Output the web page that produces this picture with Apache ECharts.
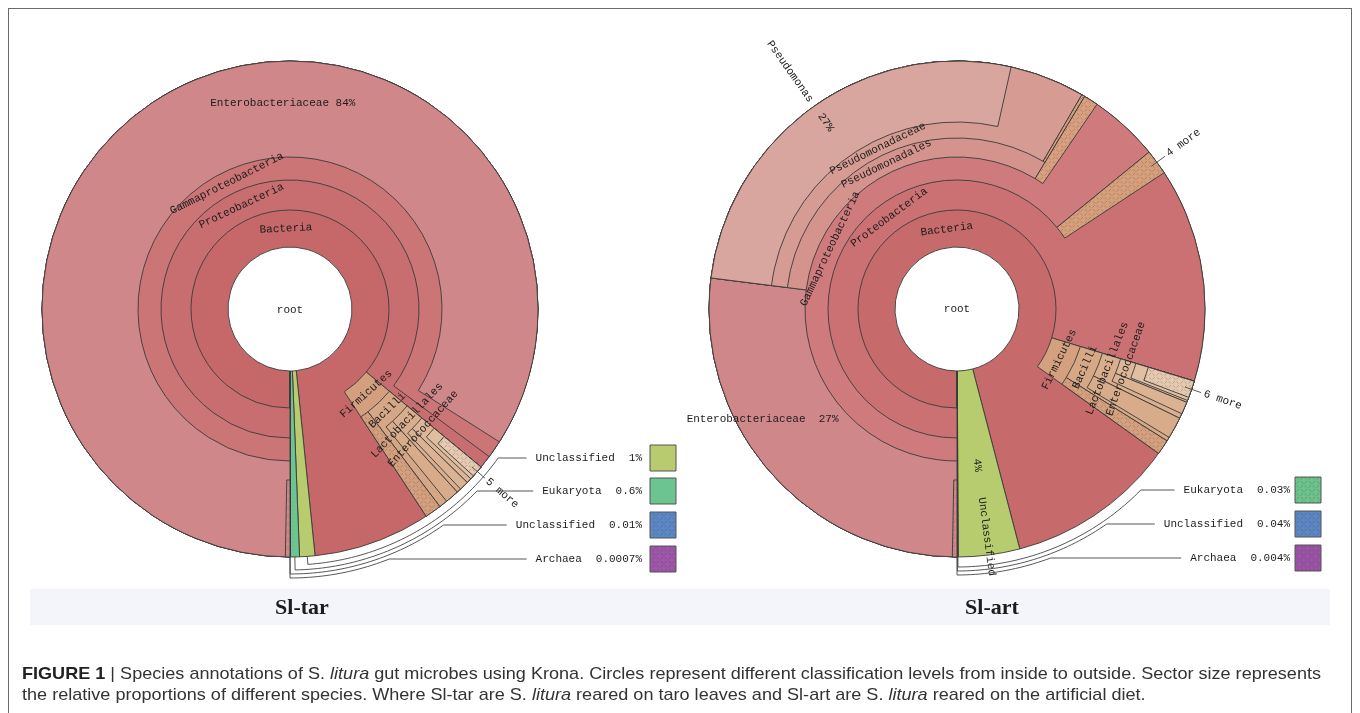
<!DOCTYPE html>
<html>
<head>
<meta charset="utf-8">
<script src="https://cdn.jsdelivr.net/npm/echarts@6/dist/echarts.min.js"></script>
<style>
html,body{margin:0;padding:0;background:#fff;width:1360px;height:713px;overflow:hidden;}
#chart{position:absolute;left:0;top:0;width:1360px;height:713px;}
#frame{position:absolute;left:8px;top:8px;width:1344px;height:720px;border:1px solid #6a6a6a;box-sizing:border-box;pointer-events:none;}
.cap{position:absolute;left:22px;font-family:"Liberation Sans",Arial,sans-serif;font-size:17px;color:#333;white-space:nowrap;transform-origin:0 0;line-height:20px;}
.cap b{color:#222;}
</style>
</head>
<body>
<div id="chart"></div>
<div id="frame"></div>
<div id="cap1" class="cap" style="top:664px;"><b>FIGURE 1</b> | Species annotations of S. <i>litura</i> gut microbes using Krona. Circles represent different classification levels from inside to outside. Sector size represents</div>
<div id="cap2" class="cap" style="top:685px;">the relative proportions of different species. Where Sl-tar are S. <i>litura</i> reared on taro leaves and Sl-art are S. <i>litura</i> reared on the artificial diet.</div>
<script>
// ===================== DATA =====================
// Sl-tar (taro leaves) — values are % of all reads
const tarIds     = ['root','B','U1','E','U2','A','P','F','G','EN','ENm','BC','FM','LA','BCo','EC','LAo','GE','M5'];
const tarNames   = ['root','Bacteria','Unclassified','Eukaryota','Unclassified','Archaea','Proteobacteria','Firmicutes','Gammaproteobacteria','Enterobacteriaceae','','Bacilli','','Lactobacillales','','Enterococcaceae','','','5 more'];
const tarParents = [null,'root','root','root','root','root','B','B','P','G','EN','F','F','BC','BC','LA','LA','EC','GE'];
const tarValues  = [100,98.389,1,0.6,0.01,0.0007,86.0,4.75,85.15,84,0.3,3.67,1.08,2.22,0.9,1.33,0.6,1.0,0.75];
const tarKeys    = ['U1','E','U2','A'];
const tarMore    = ['M5'];

// Sl-art (artificial diet)
const artIds     = ['root','B','U1','E','U2','A','P','F','G','PM','EN','ENm','PS','GM','PSC','PSm','PSE','BC','FM','LA','BCo','EC','LAo','GE','M6'];
const artNames   = ['root','Bacteria','Unclassified','Eukaryota','Unclassified','Archaea','Proteobacteria','Firmicutes','Gammaproteobacteria','4 more','Enterobacteriaceae','','Pseudomonadales','','Pseudomonadaceae','','Pseudomonas','Bacilli','','Lactobacillales','','Enterococcaceae','','','6 more'];
const artParents = [null,'root','root','root','root','root','B','B','P','P','G','EN','G','G','PS','PS','PSC','F','F','BC','BC','LA','LA','EC','GE'];
const artValues  = [100,95.926,4.0,0.03,0.04,0.004,79.7,5.2,64.1,1.64,27.0,0.3,31.6,0.95,31.4,0.2,26.5,4.22,0.97,2.56,1.4,1.44,0.8,1.31,1.1];
const artKeys    = ['E','U2','A'];
const artMore    = ['PM','M6'];

const chartTitles = ['Sl-tar','Sl-art'];

// ===================== STYLE / LAYOUT =====================
const FONT = '"Liberation Mono","DejaVu Sans Mono",monospace';
const LINE = '#3a3a3a';
const CY = 309, R = 248;
const EDGES = [0, 62, 99, 129, 152, 171, 187, 200, 212];
const MAXD = 8;

function hatch(base){
  const c = document.createElement('canvas'); c.width = 8; c.height = 8;
  const g = c.getContext('2d'); g.fillStyle = base; g.fillRect(0,0,8,8);
  g.strokeStyle = 'rgba(70,50,40,0.28)'; g.lineWidth = 0.9;
  g.beginPath(); g.moveTo(0.5,3.5); g.lineTo(3,1); g.moveTo(4.5,7.5); g.lineTo(7,5); g.moveTo(5,1.5); g.lineTo(7.5,3.5); g.moveTo(0.5,5.5); g.lineTo(2.5,7.5); g.stroke();
  return {image: c, repeat: 'repeat'};
}

const tarFill = {root:'#ffffff',B:'#C66869',U1:'#B8CB6E',E:'#6CC490',U2:hatch('#5B87C6'),A:hatch('#9D56A8'),
  P:'#C96E70',F:'#D39F7F',G:'#CC7577',EN:'#D08789',ENm:hatch('#D08789'),BC:'#D6A786',FM:hatch('#D39F7F'),
  LA:'#D9AE8E',BCo:'#D8AB8A',EC:'#DCB697',LAo:'#DBB393',GE:'#DFBE9F',M5:hatch('#E4CAB2')};
const artFill = {root:'#ffffff',B:'#C76A6B',U1:'#B7CB6F',E:hatch('#6CC18D'),U2:hatch('#5C86C3'),A:hatch('#9A54A6'),
  P:'#CB7173',F:'#D4A07F',G:'#CF7B7E',PM:hatch('#D69F7C'),EN:'#D0878A',ENm:hatch('#D0878A'),PS:'#D4948D',GM:hatch('#D8A080'),
  PSC:'#D69B93',PSm:hatch('#D8A080'),PSE:'#D9A69F',BC:'#D7A886',FM:hatch('#D4A07F'),LA:'#DAAF8E',BCo:'#D8AB8A',
  EC:'#DDB797',LAo:'#DBB393',GE:'#E0BFA2',M6:hatch('#E4C9B0')};

// label placements (mode: center | out | in ; ra = anchor radius)
const T = 'tangential';
const tarLab1 = {B:{mode:'center',rotate:T},P:{mode:'center',rotate:T},G:{mode:'center',rotate:T},
  F:{mode:'center',rotate:T},BC:{mode:'center',rotate:T},LA:{mode:'center',rotate:T},EC:{mode:'center',rotate:T},
  M5:{mode:'out',ra:261,rotate:'radial'}};
const tarLab2 = {};
const artLab1 = {B:{mode:'center',rotate:T},P:{mode:'center',rotate:T},G:{mode:'center',rotate:T},
  PS:{mode:'center',rotate:T},PSC:{mode:'center',rotate:T},F:{mode:'center',rotate:T},BC:{mode:'center',rotate:T},
  LA:{mode:'center',rotate:T},EC:{mode:'center',rotate:T},
  PSE:{mode:'out',ra:254,rotate:'radial'},EN:{mode:'out',ra:158,rotate:0,fmt:'namePct2',va:'top'},
  U1:{mode:'out',ra:190,rotate:'radial'},PM:{mode:'out',ra:261,rotate:'radial'},M6:{mode:'out',ra:261,rotate:'radial'}};
const artLab2 = {PSE:{mode:'in',ra:238,rotate:'radial',fmt:'pct'},U1:{mode:'out',ra:151,rotate:'radial',fmt:'pct'}};

const tarKeyRows = [458,491,525,559], tarKeyRadii = [256,261,265,269];
const artKeyRows = [490,524,558],     artKeyRadii = [258,262,266];

// ===================== BUILD =====================
function buildTree(ids, names, parents, values){
  const map = {}; let root = null;
  ids.forEach((id,i)=>{ map[id] = {id, name:names[i], value:values[i], children:[]}; });
  ids.forEach((id,i)=>{ if (parents[i] == null) root = map[id]; else map[parents[i]].children.push(map[id]); });
  (function lay(n, start, depth){
    n.depth = depth; n.start = start; n.span = n.value/100*360; n.mid = start + n.span/2;
    let s = start; n.children.forEach(c=>{ lay(c, s, depth+1); s += c.value/100*360; });
  })(root, 180, 1);
  return {root, map};
}
const norm = a => ((a % 360) + 360) % 360;
function polar(cx, th, r){ const t = th*Math.PI/180; return [cx + r*Math.sin(t), CY - r*Math.cos(t)]; }
function arcPts(cx, th1, th2, r){
  const pts = [], n = Math.max(2, Math.ceil(Math.abs(th2 - th1)));
  for (let i = 0; i <= n; i++) pts.push(polar(cx, th1 + (th2 - th1)*i/n, r));
  return pts;
}
function pctText(v){ return String(v) + '%'; }
function labelText(n, fmt){
  if (fmt === 'pct') return Math.round(n.value) + '%';
  if (fmt === 'namePct2') return n.name + '  ' + Math.round(n.value) + '%';
  return n.name;
}
function labelOpt(spec, n){
  if (!spec || (!n.name && !spec.fmt)) return {show:false};
  const base = {show:true, color:'#1c1c1c', fontFamily:FONT, fontSize:11, formatter: labelText(n, spec.fmt), position:'inside'};
  if (spec.va) base.verticalAlign = spec.va;
  if (spec.mode === 'center') return Object.assign(base, {rotate:spec.rotate, align:'center'});
  const r0 = EDGES[n.depth-1], r1 = EDGES[n.depth];
  if (spec.mode === 'out') return Object.assign(base, {rotate:spec.rotate, align:'left', distance: spec.ra - r0});
  return Object.assign(base, {rotate:spec.rotate, align:'right', distance: r1 - spec.ra});
}
function layerItem(n, d, fills){
  const it = {name: n.name || ' ', value: n.value};
  if (n.depth < d){
    it.itemStyle = {color:'rgba(0,0,0,0)', borderWidth:0};
    it.children = n.children.map(c=>layerItem(c, d, fills));
  } else {
    it.itemStyle = {color: fills[n.id], borderColor: LINE, borderWidth: n.depth === 1 ? 0 : 0.9};
  }
  return it;
}
function labelItem(n, specs){
  return {name: n.name || ' ', value: n.value,
    itemStyle:{color:'rgba(0,0,0,0)', borderWidth:0},
    label: labelOpt(specs[n.id], n),
    children: n.children.map(c=>labelItem(c, specs))};
}
function baseSeries(cx){
  return {type:'sunburst', center:[cx, CY], radius:[0, R], startAngle:-90, clockwise:true, sort:null,
    silent:true, nodeClick:false, animation:false, emphasis:{disabled:true}};
}
function buildSeries(tree, cx, fills, lab1, lab2){
  const out = [];
  for (let d = 1; d <= MAXD; d++){
    const levels = [{}];
    for (let k = 1; k <= MAXD; k++) levels.push({radius:[EDGES[k-1], (k === d && d > 1) ? R : EDGES[k]]});
    out.push(Object.assign(baseSeries(cx), {z: 2 + d, label:{show:false}, levels, data:[layerItem(tree.root, d, fills)]}));
  }
  [lab1, lab2].forEach((specs, i)=>{
    const levels = [{}];
    for (let k = 1; k <= MAXD; k++) levels.push({radius:[EDGES[k-1], EDGES[k]]});
    out.push(Object.assign(baseSeries(cx), {z: 20 + i, levels, data:[labelItem(tree.root, specs)]}));
  });
  return out;
}

const measureCtx = document.createElement('canvas').getContext('2d');
function textW(s){ measureCtx.font = '11px ' + FONT; return measureCtx.measureText(s).width; }
const LS = {stroke:'#444', lineWidth:0.9, fill:null};

function keyGraphics(tree, cx, keyIds, rows, radii, valueRight, boxLeft, fills){
  const els = [];
  keyIds.forEach((id,i)=>{
    const n = tree.map[id], rk = radii[i], row = rows[i];
    const thN = norm(n.mid);
    const thE = 180 - Math.acos((row - CY)/rk)*180/Math.PI;
    const vt = pctText(n.value);
    const nameRight = valueRight - textW(vt) - 14;
    const nameLeft = nameRight - textW(n.name);
    const pts = [polar(cx, thN, R)].concat(arcPts(cx, thN, thE, rk));
    pts.push([nameLeft - 9, row]);
    els.push({type:'polyline', shape:{points:pts}, style:LS, z:40});
    els.push({type:'text', x:nameRight, y:row, style:{text:n.name, font:'11px ' + FONT, fill:'#1c1c1c', align:'right', verticalAlign:'middle'}, z:40});
    els.push({type:'text', x:valueRight, y:row, style:{text:vt, font:'11px ' + FONT, fill:'#1c1c1c', align:'right', verticalAlign:'middle'}, z:40});
    els.push({type:'rect', shape:{x:boxLeft, y:row-13, width:26, height:26}, style:{fill:fills[id], stroke:'#555', lineWidth:1}, z:40});
  });
  return els;
}
function moreLeaders(tree, cx, ids){
  return ids.map(id => {
    const th = norm(tree.map[id].mid);
    return {type:'polyline', shape:{points:[polar(cx, th, 241), polar(cx, th, 258)]}, style:LS, z:40};
  });
}

const tarTree = buildTree(tarIds, tarNames, tarParents, tarValues);
const artTree = buildTree(artIds, artNames, artParents, artValues);
const CX_TAR = 290, CX_ART = 957;

const series = [].concat(
  buildSeries(tarTree, CX_TAR, tarFill, tarLab1, tarLab2),
  buildSeries(artTree, CX_ART, artFill, artLab1, artLab2)
);

const en = tarTree.map['EN'];
const enPos = polar(CX_TAR, -2, 206);
const txt = (x, y, s, font) => ({type:'text', x:x, y:y, style:{text:s, font:font || ('11px ' + FONT), fill:'#1c1c1c', align:'center', verticalAlign:'middle'}, z:40});
const graphics = [
  {type:'rect', shape:{x:30, y:589, width:1300, height:36}, style:{fill:'#F3F5FB'}, z:0},
  txt(302, 608, chartTitles[0], 'bold 22px "Liberation Serif",serif'),
  txt(992, 608, chartTitles[1], 'bold 22px "Liberation Serif",serif'),
  txt(CX_TAR, CY + 1, tarTree.root.name),
  txt(CX_ART, CY, artTree.root.name),
  txt(enPos[0], enPos[1], en.name + ' ' + Math.round(en.value) + '%')
].concat(
  keyGraphics(tarTree, CX_TAR, tarKeys, tarKeyRows, tarKeyRadii, 642, 650, tarFill),
  keyGraphics(artTree, CX_ART, artKeys, artKeyRows, artKeyRadii, 1290, 1295, artFill),
  moreLeaders(tarTree, CX_TAR, tarMore),
  moreLeaders(artTree, CX_ART, artMore)
);

const chart = echarts.init(document.getElementById('chart'), null, {renderer:'canvas'});
chart.setOption({animation:false, backgroundColor:'#ffffff', series: series, graphic:{elements: graphics}});

// fit caption width to the figure
const c1 = document.getElementById('cap1'), c2 = document.getElementById('cap2');
const s = 1299 / c1.getBoundingClientRect().width;
c1.style.transform = 'scaleX(' + s + ')';
c2.style.transform = 'scaleX(' + s + ')';
</script>
</body>
</html>
